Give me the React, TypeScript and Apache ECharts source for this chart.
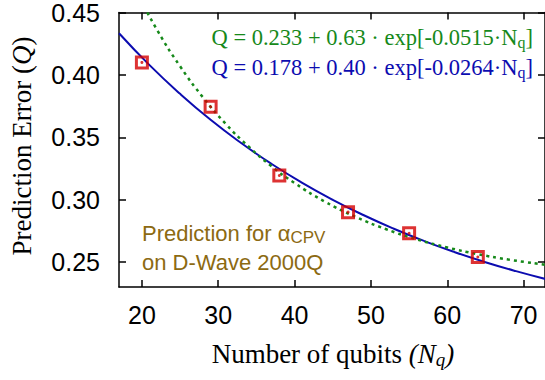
import React, { useEffect, useRef } from 'react';
import * as echarts from 'echarts';

// Measured data points (qubits vs prediction error)
const qubits = [20, 29, 38, 47, 55, 64];
const predictionError = [0.41, 0.3745, 0.3194, 0.29, 0.2731, 0.254];

// Fit curve samples (blue: Q = 0.178 + 0.40·exp[-0.0264·Nq])
const blueFitN = [17, 21, 25, 29, 33, 37, 41, 45, 49, 53, 57, 61, 65, 69, 73];
const blueFitQ = [0.4334, 0.4078, 0.3848, 0.364, 0.3454, 0.3286, 0.3135, 0.2999, 0.2877, 0.2767, 0.2668, 0.2579, 0.2499, 0.2427, 0.2362];

// Fit curve samples (green: Q = 0.233 + 0.63·exp[-0.0515·Nq])
const greenFitN = [19, 22, 25, 28, 31, 34, 37, 40, 44, 48, 52, 56, 60, 64, 68, 73];
const greenFitQ = [0.4698, 0.4359, 0.4069, 0.382, 0.3606, 0.3424, 0.3267, 0.3133, 0.2983, 0.2862, 0.2763, 0.2682, 0.2617, 0.2563, 0.252, 0.2477];

const xTicks = [20, 30, 40, 50, 60, 70];
const yTicks = [0.25, 0.3, 0.35, 0.4, 0.45];

const SANS = '"Liberation Sans", Arial, Helvetica, sans-serif';
const SERIF = '"Liberation Serif", "Times New Roman", serif';
const GREEN = '#16891a';
const BLUE = '#0c0cb0';
const RED = '#d40000';
const GOLD = '#8c6a12';

export default function App() {
  const ref = useRef<HTMLDivElement>(null);
  useEffect(() => {
    if (!ref.current) return;
    const chart = echarts.init(ref.current, null, { renderer: 'svg' });
    const axisLine = { show: true, lineStyle: { color: '#000', width: 1.5 } };
    const tickCommon = { show: true, inside: true, length: 7, lineStyle: { color: '#000', width: 1.5 } };
    const xMin = 17;
    const xMax = 72.8;
    const yMin = 0.23;
    const yMax = 0.45;
    chart.setOption({
      animation: false,
      backgroundColor: '#fff',
      grid: { left: 119, top: 11.5, right: -2, bottom: 93 },
      xAxis: [
        {
          type: 'value', position: 'bottom', min: xMin, max: xMax,
          axisLine, splitLine: { show: false },
          axisTick: { ...tickCommon, customValues: xTicks },
          axisLabel: { customValues: xTicks, fontSize: 25, fontFamily: SANS, color: '#000', margin: 15 },
        },
        {
          type: 'value', position: 'top', min: xMin, max: xMax,
          axisLine, splitLine: { show: false },
          axisTick: { ...tickCommon, customValues: xTicks },
          axisLabel: { show: false },
        },
      ],
      yAxis: [
        {
          type: 'value', position: 'left', min: yMin, max: yMax,
          axisLine, splitLine: { show: false },
          axisTick: { ...tickCommon, customValues: yTicks },
          axisLabel: {
            customValues: yTicks, fontSize: 25, fontFamily: SANS, color: '#000', margin: 19,
            formatter: (v: number) => v.toFixed(2), padding: [6, 0, 0, 0],
          },
        },
        {
          type: 'value', position: 'right', min: yMin, max: yMax,
          axisLine, splitLine: { show: false },
          axisTick: { ...tickCommon, customValues: yTicks },
          axisLabel: { show: false },
        },
      ],
      series: [
        {
          type: 'line', xAxisIndex: 0, yAxisIndex: 0,
          data: blueFitN.map((n, i) => [n, blueFitQ[i]]),
          showSymbol: false, smooth: true, clip: true,
          lineStyle: { color: BLUE, width: 2 }, z: 2,
        },
        {
          type: 'line', xAxisIndex: 0, yAxisIndex: 0,
          data: greenFitN.map((n, i) => [n, greenFitQ[i]]),
          showSymbol: false, smooth: true, clip: true,
          lineStyle: { color: GREEN, width: 2.5, type: [3, 4] }, z: 3,
        },
        {
          type: 'scatter', xAxisIndex: 0, yAxisIndex: 0,
          data: qubits.map((n, i) => [n, predictionError[i]]),
          symbol: 'rect', symbolSize: 11,
          itemStyle: { color: 'rgba(255,255,255,0)', borderColor: RED, borderWidth: 3 }, z: 4,
        },
        {
          type: 'scatter', xAxisIndex: 0, yAxisIndex: 0,
          data: qubits.map((n, i) => [n, predictionError[i]]),
          symbol: 'circle', symbolSize: 3,
          itemStyle: { color: RED }, z: 5,
        },
      ],
      graphic: [
        {
          type: 'text', x: 533, y: 37,
          style: {
            text: '{m|Q = 0.233 + 0.63 · exp[-0.0515·N}{s|q}{m|]}',
            align: 'right', textAlign: 'right', verticalAlign: 'middle', textVerticalAlign: 'middle',
            rich: {
              m: { fill: GREEN, fontSize: 22.5, fontFamily: SERIF, lineHeight: 26 },
              s: { fill: GREEN, fontSize: 16, fontFamily: SERIF, lineHeight: 14, verticalAlign: 'bottom' },
            },
          },
        },
        {
          type: 'text', x: 533, y: 67,
          style: {
            text: '{m|Q = 0.178 + 0.40 · exp[-0.0264·N}{s|q}{m|]}',
            align: 'right', textAlign: 'right', verticalAlign: 'middle', textVerticalAlign: 'middle',
            rich: {
              m: { fill: BLUE, fontSize: 22.5, fontFamily: SERIF, lineHeight: 26 },
              s: { fill: BLUE, fontSize: 16, fontFamily: SERIF, lineHeight: 14, verticalAlign: 'bottom' },
            },
          },
        },
        {
          type: 'text', x: 142, y: 233,
          style: {
            text: '{m|Prediction for α}{s|CPV}',
            align: 'left', textAlign: 'left', verticalAlign: 'middle', textVerticalAlign: 'middle',
            rich: {
              m: { fill: GOLD, fontSize: 22, fontFamily: SANS, lineHeight: 26 },
              s: { fill: GOLD, fontSize: 17, fontFamily: SANS, lineHeight: 12, verticalAlign: 'bottom' },
            },
          },
        },
        {
          type: 'text', x: 142, y: 262,
          style: {
            text: 'on D-Wave 2000Q', fill: GOLD, fontSize: 22, fontFamily: SANS,
            align: 'left', textAlign: 'left', verticalAlign: 'middle', textVerticalAlign: 'middle',
          },
        },
        {
          type: 'text', x: 22, y: 146, rotation: Math.PI / 2,
          style: {
            text: '{n|Prediction Error (}{i|Q}{n|)}',
            align: 'center', textAlign: 'center', verticalAlign: 'middle', textVerticalAlign: 'middle',
            rich: {
              n: { fill: '#000', fontSize: 27, fontFamily: SERIF, lineHeight: 30 },
              i: { fill: '#000', fontSize: 27, fontFamily: SERIF, fontStyle: 'italic', lineHeight: 30 },
            },
          },
        },
        {
          type: 'text', x: 333, y: 354,
          style: {
            text: '{n|Number of qubits }{i|(N}{s|q}{i|)}',
            align: 'center', textAlign: 'center', verticalAlign: 'middle', textVerticalAlign: 'middle',
            rich: {
              n: { fill: '#000', fontSize: 27, fontFamily: SERIF, lineHeight: 30 },
              i: { fill: '#000', fontSize: 27, fontFamily: SERIF, fontStyle: 'italic', lineHeight: 30 },
              s: { fill: '#000', fontSize: 19, fontFamily: SERIF, fontStyle: 'italic', lineHeight: 16, verticalAlign: 'bottom' },
            },
          },
        },
      ],
    });
    return () => chart.dispose();
  }, []);
  return <div ref={ref} style={{ position: 'fixed', left: 0, top: 0, width: 545, height: 380 }} />;
}
